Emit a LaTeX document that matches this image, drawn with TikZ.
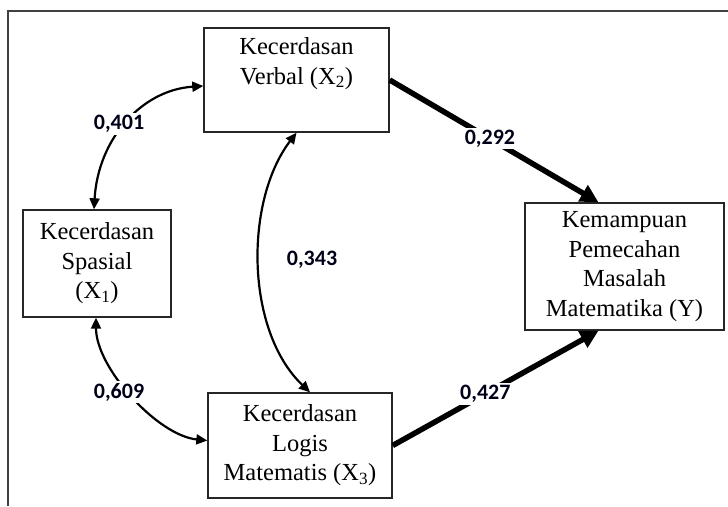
\documentclass[tikz,border=0pt]{standalone}
\usepackage{fontspec}
\setmainfont{Liberation Serif}
\newfontfamily\lblfont{Carlito}
\usetikzlibrary{arrows.meta,calc}
\begin{document}
\begin{tikzpicture}[x=1pt,y=-1pt,
  box/.style={draw=black!85, line width=1.4pt, rectangle, inner sep=0pt, align=center,
    font=\fontsize{24.5}{29.5}\selectfont},
  corr/.style={line width=2.2pt, {Triangle[length=11pt,width=10pt]}-{Triangle[length=11pt,width=10pt]}},
  effect/.style={line width=5.5pt, -{Triangle[length=18pt,width=18pt]}},
  lbl/.style={fill=white, inner sep=2pt, text=black!90!blue,
    font=\lblfont\bfseries\fontsize{22}{22}\selectfont},
  frame/.style={draw=black!75, line width=2pt}]
\useasboundingbox (0,0) rectangle (728,506);
\draw[frame] (8,506) -- (8,11) -- (728,11);

\node[box, minimum width=185pt, minimum height=104pt] (verbal) at (296.5,80)
  {Kecerdasan\\Verbal (X\textsubscript{2})\\\strut};
\node[box, minimum width=148pt, minimum height=107pt] (spasial) at (97,263.5)
  {Kecerdasan\\Spasial\\(X\textsubscript{1})};
\node[box, minimum width=184pt, minimum height=105pt] (logis) at (300,445.5)
  {Kecerdasan\\Logis\\Matematis (X\textsubscript{3})};
\node[box, minimum width=199pt, minimum height=127pt] (kemampuan) at (624.5,266.5)
  {Kemampuan\\Pemecahan\\Masalah\\Matematika (Y)};

% correlations
\draw[corr] ([xshift=-3pt]spasial.north) .. controls +(4,-70) and +(-62,4) .. ([yshift=-6pt]verbal.west);
\draw[corr] ([xshift=-1pt]spasial.south) .. controls +(0,50) and +(-50,-5) .. ([yshift=5pt]logis.west);
\draw[corr] (verbal.south) .. controls +(-52,68) and +(-65,-62) .. ([xshift=10pt]logis.north);

\node[lbl] (l401) at (119,124) {0,401};
\node[lbl] (l609) at (119,392) {0,609};
\node[lbl, fill=none] (l343) at (312,260) {0,343};

% effects
\draw[effect] (verbal.east) -- node[lbl, pos=0.48] (l292) {0,292} ([xshift=-26pt]kemampuan.north);
\draw[effect] (logis.east) -- node[lbl, pos=0.45] (l427) {0,427} ([xshift=-26pt]kemampuan.south);
\end{tikzpicture}
\end{document}
